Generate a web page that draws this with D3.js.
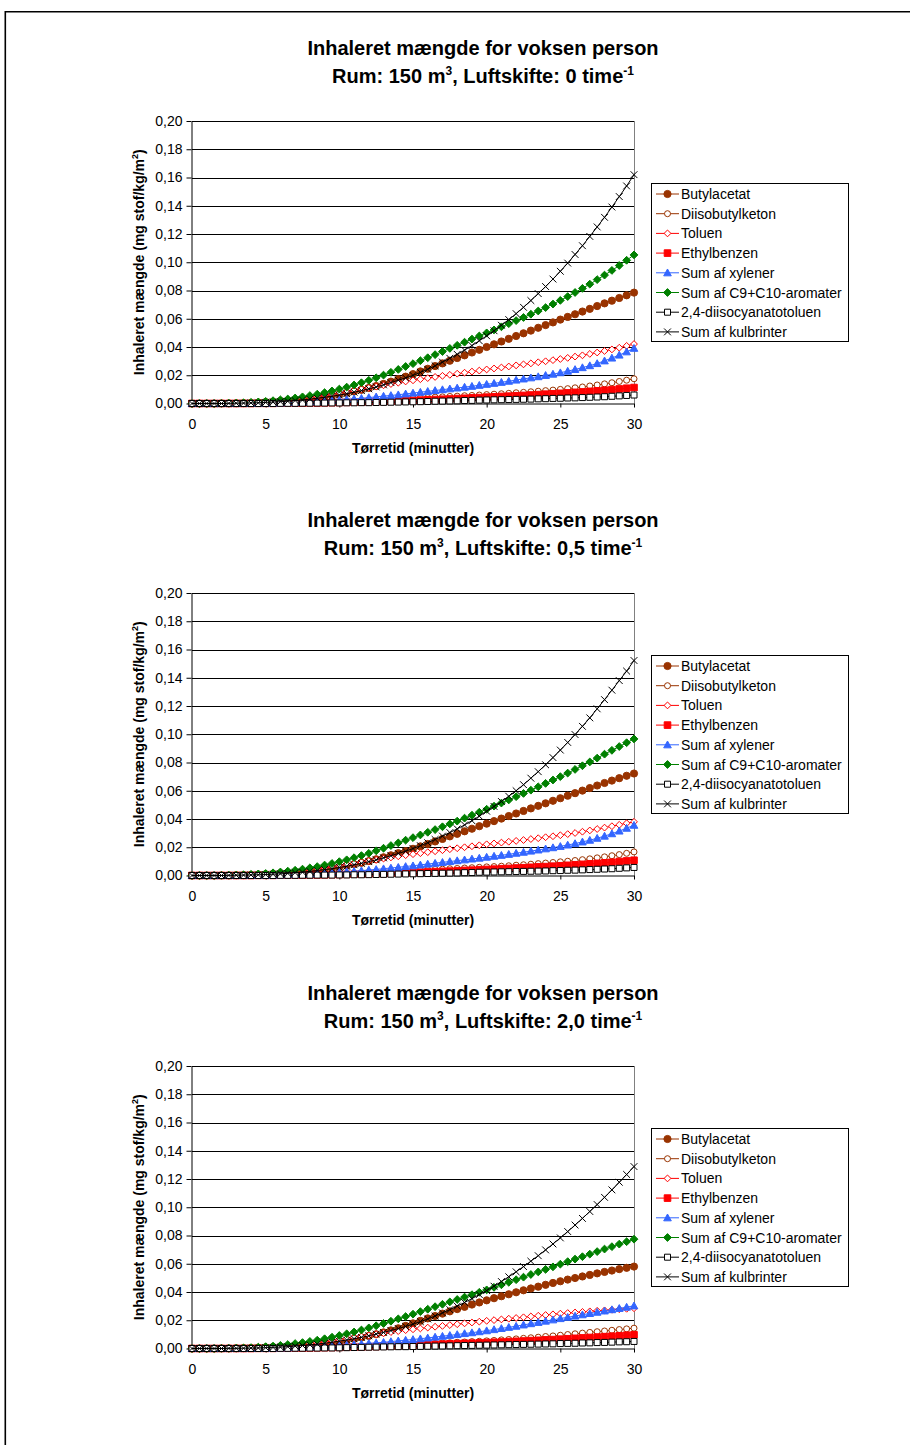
<!DOCTYPE html>
<html>
<head>
<meta charset="utf-8">
<script src="https://cdn.jsdelivr.net/npm/d3@7"></script>
<style>
  body { margin: 0; background: #fff; }
  svg { display: block; font-family: "Liberation Sans", Arial, sans-serif; }
</style>
</head>
<body>
<svg id="chart" width="910" height="1445"></svg>
<script>
// Sampling grid: every half minute from 0 to 30 minutes of drying time
const minutes = d3.range(61).map(i => i * 0.5);

const seriesNames = ["Butylacetat", "Diisobutylketon", "Toluen", "Ethylbenzen",
  "Sum af xylener", "Sum af C9+C10-aromater", "2,4-diisocyanatotoluen", "Sum af kulbrinter"];
const airChangeLabels = ["0", "0,5", "2,0"];
const yTicks = [0, 0.02, 0.04, 0.06, 0.08, 0.10, 0.12, 0.14, 0.16, 0.18, 0.20];
const xTicks = [0, 5, 10, 15, 20, 25, 30];

// --- Air change 0 per hour (mg/kg/m2) ---
const butylacetat_0 = [0,0,0,0,0.0001,0.0001,0.0002,0.0003,0.0005,0.0007,0.0010,0.0013,0.0017,0.0021,0.0025,0.0029,0.0034,0.0040,0.0047,0.0055,0.0064,0.0074,0.0085,0.0097,0.0110,0.0124,0.0139,0.0155,0.0172,0.0190,0.0208,0.0227,0.0246,0.0265,0.0284,0.0303,0.0322,0.0341,0.0361,0.0380,0.0400,0.0419,0.0439,0.0458,0.0478,0.0497,0.0516,0.0536,0.0555,0.0574,0.0594,0.0613,0.0632,0.0651,0.0670,0.0690,0.0709,0.0728,0.0747,0.0766,0.0785];
const diisobutylketon_0 = [0,0,0,0,0,0,0,0.0001,0.0001,0.0001,0.0002,0.0002,0.0003,0.0004,0.0005,0.0006,0.0007,0.0008,0.0009,0.0010,0.0012,0.0014,0.0016,0.0018,0.0020,0.0022,0.0025,0.0028,0.0031,0.0034,0.0037,0.0040,0.0042,0.0045,0.0047,0.0050,0.0052,0.0055,0.0057,0.0060,0.0063,0.0066,0.0069,0.0072,0.0076,0.0079,0.0083,0.0087,0.0091,0.0095,0.0100,0.0105,0.0111,0.0117,0.0124,0.0131,0.0139,0.0147,0.0156,0.0165,0.0175];
const toluen_0 = [0,0,0,0,0.0001,0.0001,0.0002,0.0003,0.0005,0.0008,0.0011,0.0015,0.0020,0.0025,0.0031,0.0037,0.0044,0.0051,0.0059,0.0067,0.0075,0.0084,0.0093,0.0102,0.0111,0.0120,0.0129,0.0138,0.0147,0.0156,0.0164,0.0172,0.0180,0.0188,0.0196,0.0203,0.0211,0.0218,0.0226,0.0233,0.0241,0.0248,0.0255,0.0262,0.0270,0.0277,0.0284,0.0292,0.0299,0.0307,0.0315,0.0323,0.0332,0.0341,0.0351,0.0361,0.0372,0.0383,0.0395,0.0408,0.0421];
const ethylbenzen_0 = [0,0,0,0,0,0,0,0,0,0.0001,0.0001,0.0001,0.0002,0.0002,0.0003,0.0003,0.0004,0.0004,0.0005,0.0006,0.0007,0.0008,0.0009,0.0010,0.0012,0.0013,0.0015,0.0016,0.0018,0.0020,0.0022,0.0024,0.0026,0.0028,0.0030,0.0032,0.0035,0.0037,0.0040,0.0042,0.0045,0.0047,0.0050,0.0052,0.0055,0.0057,0.0060,0.0063,0.0066,0.0069,0.0072,0.0075,0.0079,0.0082,0.0086,0.0090,0.0094,0.0098,0.0103,0.0108,0.0113];
const xylener_0 = [0,0,0,0,0,0,0,0.0001,0.0001,0.0002,0.0002,0.0003,0.0004,0.0006,0.0008,0.0010,0.0012,0.0015,0.0018,0.0021,0.0025,0.0029,0.0033,0.0037,0.0042,0.0047,0.0052,0.0057,0.0062,0.0068,0.0074,0.0080,0.0086,0.0092,0.0098,0.0104,0.0110,0.0116,0.0122,0.0129,0.0136,0.0143,0.0150,0.0158,0.0166,0.0174,0.0182,0.0190,0.0199,0.0208,0.0218,0.0229,0.0241,0.0254,0.0268,0.0283,0.0302,0.0322,0.0343,0.0366,0.0391];
const aromater_0 = [0,0,0,0,0.0001,0.0002,0.0003,0.0005,0.0008,0.0011,0.0015,0.0020,0.0026,0.0032,0.0039,0.0047,0.0056,0.0066,0.0077,0.0089,0.0102,0.0116,0.0131,0.0147,0.0164,0.0182,0.0201,0.0221,0.0241,0.0262,0.0282,0.0303,0.0324,0.0346,0.0368,0.0390,0.0412,0.0434,0.0456,0.0478,0.0500,0.0521,0.0543,0.0565,0.0587,0.0609,0.0632,0.0655,0.0679,0.0704,0.0730,0.0757,0.0786,0.0815,0.0845,0.0877,0.0909,0.0942,0.0977,0.1014,0.1052];
const diisocyanat_0 = [0,0,0,0,0,0,0,0,0,0,0,0,0.0001,0.0001,0.0001,0.0002,0.0002,0.0003,0.0003,0.0004,0.0004,0.0005,0.0005,0.0006,0.0006,0.0007,0.0008,0.0009,0.0010,0.0011,0.0012,0.0013,0.0014,0.0016,0.0017,0.0018,0.0019,0.0021,0.0022,0.0024,0.0025,0.0026,0.0027,0.0028,0.0029,0.0030,0.0031,0.0033,0.0034,0.0036,0.0037,0.0039,0.0040,0.0042,0.0044,0.0046,0.0048,0.0051,0.0054,0.0057,0.0060];
const kulbrinter_0 = [0,0,0,0,0,0.0001,0.0002,0.0003,0.0004,0.0005,0.0008,0.0010,0.0013,0.0016,0.0021,0.0025,0.0031,0.0037,0.0044,0.0051,0.0060,0.0069,0.0080,0.0091,0.0104,0.0117,0.0132,0.0148,0.0165,0.0181,0.0199,0.0220,0.0242,0.0267,0.0293,0.0320,0.0348,0.0378,0.0410,0.0444,0.0479,0.0515,0.0554,0.0594,0.0636,0.0681,0.0729,0.0778,0.0828,0.0881,0.0936,0.0994,0.1055,0.1117,0.1183,0.1250,0.1318,0.1391,0.1465,0.1540,0.1620];

// --- Air change 0,5 per hour ---
const butylacetat_05 = [0,0,0,0,0.0001,0.0001,0.0002,0.0003,0.0005,0.0007,0.0009,0.0012,0.0016,0.0019,0.0023,0.0027,0.0032,0.0037,0.0044,0.0051,0.0060,0.0069,0.0079,0.0090,0.0102,0.0115,0.0129,0.0143,0.0158,0.0172,0.0189,0.0206,0.0223,0.0241,0.0259,0.0277,0.0295,0.0313,0.0331,0.0349,0.0367,0.0385,0.0403,0.0421,0.0439,0.0457,0.0475,0.0493,0.0511,0.0529,0.0547,0.0565,0.0583,0.0601,0.0619,0.0637,0.0655,0.0672,0.0689,0.0706,0.0722];
const diisobutylketon_05 = [0,0,0,0,0,0,0,0.0001,0.0001,0.0001,0.0002,0.0002,0.0003,0.0004,0.0005,0.0006,0.0007,0.0008,0.0009,0.0010,0.0012,0.0013,0.0015,0.0017,0.0019,0.0021,0.0024,0.0027,0.0030,0.0033,0.0036,0.0038,0.0041,0.0043,0.0045,0.0048,0.0050,0.0053,0.0055,0.0058,0.0061,0.0063,0.0066,0.0069,0.0073,0.0076,0.0080,0.0084,0.0088,0.0092,0.0097,0.0101,0.0106,0.0112,0.0118,0.0125,0.0132,0.0140,0.0148,0.0157,0.0167];
const toluen_05 = [0,0,0,0,0.0001,0.0001,0.0002,0.0003,0.0005,0.0007,0.0010,0.0014,0.0019,0.0023,0.0029,0.0034,0.0041,0.0047,0.0055,0.0062,0.0070,0.0078,0.0086,0.0095,0.0103,0.0111,0.0120,0.0128,0.0136,0.0144,0.0151,0.0158,0.0165,0.0172,0.0179,0.0186,0.0193,0.0200,0.0207,0.0214,0.0221,0.0227,0.0233,0.0239,0.0245,0.0251,0.0258,0.0264,0.0271,0.0278,0.0285,0.0293,0.0301,0.0310,0.0319,0.0329,0.0339,0.0349,0.0359,0.0370,0.0380];
const ethylbenzen_05 = [0,0,0,0,0,0,0,0,0,0.0001,0.0001,0.0001,0.0002,0.0002,0.0003,0.0003,0.0004,0.0004,0.0005,0.0006,0.0007,0.0008,0.0009,0.0010,0.0011,0.0013,0.0014,0.0016,0.0017,0.0019,0.0021,0.0023,0.0025,0.0027,0.0029,0.0031,0.0034,0.0036,0.0038,0.0041,0.0043,0.0045,0.0048,0.0050,0.0053,0.0055,0.0058,0.0061,0.0063,0.0066,0.0069,0.0072,0.0076,0.0079,0.0083,0.0086,0.0090,0.0094,0.0099,0.0103,0.0108];
const xylener_05 = [0,0,0,0,0,0,0,0.0001,0.0001,0.0002,0.0002,0.0003,0.0004,0.0006,0.0007,0.0009,0.0011,0.0014,0.0017,0.0019,0.0023,0.0027,0.0030,0.0034,0.0039,0.0043,0.0048,0.0053,0.0058,0.0064,0.0069,0.0075,0.0081,0.0087,0.0093,0.0099,0.0105,0.0111,0.0117,0.0123,0.0130,0.0137,0.0143,0.0150,0.0158,0.0165,0.0173,0.0181,0.0189,0.0197,0.0206,0.0216,0.0226,0.0238,0.0250,0.0264,0.0279,0.0296,0.0315,0.0335,0.0356];
const aromater_05 = [0,0,0,0,0.0001,0.0002,0.0003,0.0005,0.0008,0.0011,0.0014,0.0019,0.0025,0.0031,0.0037,0.0045,0.0054,0.0063,0.0074,0.0085,0.0098,0.0111,0.0126,0.0141,0.0157,0.0175,0.0193,0.0212,0.0231,0.0250,0.0268,0.0287,0.0306,0.0325,0.0345,0.0365,0.0385,0.0406,0.0427,0.0448,0.0469,0.0491,0.0513,0.0535,0.0558,0.0581,0.0604,0.0628,0.0652,0.0676,0.0700,0.0725,0.0751,0.0777,0.0804,0.0831,0.0859,0.0886,0.0913,0.0940,0.0967];
const diisocyanat_05 = [0,0,0,0,0,0,0,0,0,0,0,0,0.0001,0.0001,0.0001,0.0002,0.0002,0.0003,0.0003,0.0003,0.0004,0.0004,0.0005,0.0005,0.0006,0.0007,0.0008,0.0009,0.0010,0.0011,0.0012,0.0013,0.0014,0.0015,0.0016,0.0017,0.0018,0.0020,0.0021,0.0023,0.0024,0.0025,0.0026,0.0027,0.0028,0.0029,0.0030,0.0031,0.0032,0.0034,0.0035,0.0037,0.0038,0.0040,0.0042,0.0044,0.0046,0.0048,0.0051,0.0054,0.0057];
const kulbrinter_05 = [0,0,0,0,0,0.0001,0.0002,0.0003,0.0004,0.0005,0.0007,0.0009,0.0012,0.0015,0.0020,0.0024,0.0029,0.0035,0.0042,0.0048,0.0057,0.0065,0.0076,0.0086,0.0098,0.0111,0.0125,0.0140,0.0156,0.0172,0.0191,0.0211,0.0232,0.0255,0.0279,0.0304,0.0330,0.0358,0.0388,0.0420,0.0455,0.0489,0.0524,0.0561,0.0600,0.0643,0.0689,0.0735,0.0784,0.0835,0.0888,0.0942,0.0998,0.1056,0.1116,0.1180,0.1245,0.1312,0.1380,0.1447,0.1522];

// --- Air change 2,0 per hour ---
const butylacetat_2 = [0,0,0,0,0.0001,0.0001,0.0002,0.0003,0.0004,0.0006,0.0008,0.0010,0.0013,0.0016,0.0019,0.0023,0.0027,0.0032,0.0038,0.0044,0.0051,0.0059,0.0068,0.0078,0.0089,0.0101,0.0114,0.0128,0.0143,0.0160,0.0178,0.0196,0.0213,0.0230,0.0247,0.0263,0.0279,0.0295,0.0311,0.0326,0.0341,0.0356,0.0370,0.0384,0.0398,0.0412,0.0425,0.0438,0.0451,0.0464,0.0476,0.0488,0.0499,0.0510,0.0521,0.0532,0.0542,0.0552,0.0562,0.0571,0.0580];
const diisobutylketon_2 = [0,0,0,0,0,0,0,0.0001,0.0001,0.0001,0.0002,0.0002,0.0003,0.0003,0.0004,0.0005,0.0006,0.0007,0.0008,0.0009,0.0010,0.0011,0.0013,0.0014,0.0016,0.0018,0.0020,0.0022,0.0025,0.0027,0.0030,0.0032,0.0034,0.0036,0.0039,0.0041,0.0044,0.0046,0.0049,0.0051,0.0054,0.0057,0.0061,0.0064,0.0068,0.0072,0.0076,0.0080,0.0085,0.0089,0.0094,0.0099,0.0104,0.0109,0.0114,0.0119,0.0124,0.0129,0.0134,0.0139,0.0144];
const toluen_2 = [0,0,0,0,0.0001,0.0001,0.0002,0.0003,0.0004,0.0006,0.0009,0.0012,0.0016,0.0020,0.0025,0.0030,0.0036,0.0042,0.0049,0.0056,0.0063,0.0070,0.0078,0.0086,0.0093,0.0101,0.0109,0.0116,0.0123,0.0130,0.0136,0.0142,0.0148,0.0154,0.0160,0.0166,0.0172,0.0178,0.0184,0.0190,0.0196,0.0201,0.0206,0.0211,0.0216,0.0221,0.0227,0.0232,0.0237,0.0242,0.0247,0.0251,0.0255,0.0259,0.0263,0.0267,0.0270,0.0274,0.0278,0.0281,0.0285];
const ethylbenzen_2 = [0,0,0,0,0,0,0,0,0,0.0001,0.0001,0.0001,0.0002,0.0002,0.0003,0.0003,0.0004,0.0005,0.0006,0.0007,0.0008,0.0009,0.0010,0.0011,0.0013,0.0014,0.0016,0.0018,0.0020,0.0022,0.0024,0.0026,0.0027,0.0029,0.0031,0.0033,0.0035,0.0037,0.0038,0.0040,0.0042,0.0044,0.0046,0.0049,0.0051,0.0053,0.0056,0.0058,0.0061,0.0063,0.0066,0.0069,0.0072,0.0075,0.0078,0.0081,0.0084,0.0087,0.0090,0.0094,0.0097];
const xylener_2 = [0,0,0,0,0,0,0,0,0.0001,0.0001,0.0002,0.0003,0.0004,0.0005,0.0007,0.0008,0.0010,0.0013,0.0015,0.0018,0.0021,0.0025,0.0028,0.0032,0.0036,0.0040,0.0044,0.0049,0.0054,0.0059,0.0064,0.0069,0.0075,0.0081,0.0087,0.0093,0.0099,0.0106,0.0112,0.0119,0.0126,0.0134,0.0142,0.0150,0.0158,0.0167,0.0176,0.0185,0.0194,0.0203,0.0212,0.0221,0.0230,0.0239,0.0248,0.0257,0.0266,0.0275,0.0284,0.0293,0.0302];
const aromater_2 = [0,0,0,0,0.0001,0.0001,0.0002,0.0004,0.0006,0.0009,0.0013,0.0017,0.0022,0.0028,0.0035,0.0042,0.0050,0.0059,0.0069,0.0080,0.0092,0.0104,0.0117,0.0131,0.0146,0.0161,0.0177,0.0193,0.0210,0.0226,0.0243,0.0261,0.0278,0.0296,0.0313,0.0330,0.0347,0.0364,0.0381,0.0398,0.0415,0.0433,0.0451,0.0469,0.0487,0.0505,0.0524,0.0542,0.0560,0.0578,0.0597,0.0615,0.0633,0.0650,0.0668,0.0686,0.0704,0.0721,0.0739,0.0756,0.0774];
const diisocyanat_2 = [0,0,0,0,0,0,0,0,0,0,0,0,0.0001,0.0001,0.0002,0.0002,0.0003,0.0003,0.0004,0.0004,0.0005,0.0006,0.0007,0.0008,0.0009,0.0010,0.0011,0.0012,0.0013,0.0013,0.0014,0.0015,0.0016,0.0017,0.0018,0.0019,0.0020,0.0021,0.0022,0.0023,0.0024,0.0025,0.0026,0.0027,0.0028,0.0029,0.0030,0.0031,0.0032,0.0033,0.0035,0.0036,0.0037,0.0039,0.0040,0.0042,0.0043,0.0045,0.0047,0.0048,0.0050];
const kulbrinter_2 = [0,0,0,0,0,0.0001,0.0001,0.0002,0.0003,0.0004,0.0006,0.0008,0.0010,0.0013,0.0017,0.0021,0.0026,0.0031,0.0037,0.0044,0.0052,0.0060,0.0069,0.0079,0.0090,0.0102,0.0114,0.0127,0.0141,0.0156,0.0172,0.0190,0.0209,0.0230,0.0252,0.0275,0.0300,0.0326,0.0353,0.0382,0.0410,0.0441,0.0474,0.0508,0.0543,0.0580,0.0618,0.0657,0.0698,0.0740,0.0783,0.0828,0.0874,0.0921,0.0970,0.1019,0.1070,0.1123,0.1177,0.1232,0.1288];

const panels = [
  [butylacetat_0, diisobutylketon_0, toluen_0, ethylbenzen_0, xylener_0, aromater_0, diisocyanat_0, kulbrinter_0],
  [butylacetat_05, diisobutylketon_05, toluen_05, ethylbenzen_05, xylener_05, aromater_05, diisocyanat_05, kulbrinter_05],
  [butylacetat_2, diisobutylketon_2, toluen_2, ethylbenzen_2, xylener_2, aromater_2, diisocyanat_2, kulbrinter_2]
];

// Marker and line styling per substance
const styles = [
  { stroke: "#993300", marker: "circle",   fill: "#993300", r: 3.6 },
  { stroke: "#993300", marker: "circle",   fill: "#ffffff", r: 3.0 },
  { stroke: "#FF0000", marker: "diamond",  fill: "#ffffff", r: 3.4 },
  { stroke: "#FF0000", marker: "square",   fill: "#FF0000", r: 3.3 },
  { stroke: "#3366FF", marker: "triangle", fill: "#3366FF", r: 3.8 },
  { stroke: "#008000", marker: "diamond",  fill: "#008000", r: 3.9 },
  { stroke: "#000000", marker: "square",   fill: "#ffffff", r: 3.0 },
  { stroke: "#000000", marker: "cross",    fill: "none",    r: 3.4 }
];

function markerPath(type, s) {
  switch (type) {
    case "square":   return `M${-s},${-s}H${s}V${s}H${-s}Z`;
    case "diamond":  return `M0,${-s}L${s},0L0,${s}L${-s},0Z`;
    case "triangle": return `M0,${-s}L${s},${s * 0.8}L${-s},${s * 0.8}Z`;
    case "cross":    return `M${-s},${-s}L${s},${s}M${-s},${s}L${s},${-s}`;
    default:         return d3.symbol(d3.symbolCircle, Math.PI * s * s)();
  }
}

function drawMarkers(sel, st) {
  sel.append("path")
    .attr("d", markerPath(st.marker, st.r))
    .attr("fill", st.fill)
    .attr("stroke", st.stroke)
    .attr("stroke-width", 1);
}

const svg = d3.select("#chart");

// Outer frame of the page
svg.append("path")
  .attr("d", "M5.3,1445V11.8H910")
  .attr("fill", "none")
  .attr("stroke", "#000")
  .attr("stroke-width", 1.6);

const decimalComma = d3.formatLocale({ decimal: ",", thousands: ".", grouping: [3], currency: ["", ""] });
const fmtY = decimalComma.format(".2f");

const panelOffsets = [0, 472, 945];
const plot = { left: 192, right: 634, top: 121, bottom: 403.5 };

panels.forEach((series, pi) => {
  const g = svg.append("g").attr("transform", `translate(0,${panelOffsets[pi]})`);
  const x = d3.scaleLinear().domain([0, 30]).range([plot.left, plot.right]);
  const y = d3.scaleLinear().domain([0, 0.2]).range([plot.bottom, plot.top]);

  // Title
  const title = g.append("text")
    .attr("text-anchor", "middle")
    .attr("font-weight", "bold")
    .attr("font-size", 20)
    .attr("fill", "#000");
  title.append("tspan").attr("x", 483).attr("y", 55).text("Inhaleret mængde for voksen person");
  const t2 = g.append("text")
    .attr("text-anchor", "middle")
    .attr("font-weight", "bold")
    .attr("font-size", 20)
    .attr("x", 483).attr("y", 83)
    .attr("fill", "#000");
  t2.append("tspan").text("Rum: 150 m");
  t2.append("tspan").attr("font-size", 12).attr("dy", -8).text("3");
  t2.append("tspan").attr("dy", 8).text(`, Luftskifte: ${airChangeLabels[pi]} time`);
  t2.append("tspan").attr("font-size", 12).attr("dy", -8).text("-1");

  // Horizontal gridlines
  g.append("g").selectAll("line")
    .data(yTicks.filter(d => d > 0))
    .join("line")
    .attr("x1", plot.left).attr("x2", plot.right)
    .attr("y1", d => Math.round(y(d)) + 0.5).attr("y2", d => Math.round(y(d)) + 0.5)
    .attr("stroke", "#000").attr("stroke-width", 1);

  // Right edge of the plot area
  g.append("line")
    .attr("x1", plot.right + 0.5).attr("x2", plot.right + 0.5)
    .attr("y1", plot.top).attr("y2", plot.bottom)
    .attr("stroke", "#808080").attr("stroke-width", 1);

  // Y axis
  const yAxis = g.append("g")
    .attr("transform", `translate(${plot.left - 0.5},0)`)
    .call(d3.axisLeft(y).tickValues(yTicks).tickFormat(fmtY).tickSize(5).tickSizeOuter(0).tickPadding(4));
  yAxis.select(".domain").attr("stroke", "#000");
  yAxis.selectAll(".tick line").attr("stroke", "#000");
  yAxis.selectAll(".tick text")
    .attr("font-size", 14).attr("font-family", "Liberation Sans, Arial, sans-serif").attr("fill", "#000");

  // X axis
  const xAxis = g.append("g")
    .attr("transform", `translate(0,${plot.bottom})`)
    .call(d3.axisBottom(x).tickValues(xTicks).tickFormat(d3.format("d")).tickSize(4).tickSizeOuter(0));
  xAxis.select(".domain").attr("stroke", "#000");
  xAxis.selectAll(".tick line").attr("stroke", "#000");
  xAxis.selectAll(".tick text")
    .attr("y", 25.5).attr("dy", null)
    .attr("font-size", 14).attr("font-family", "Liberation Sans, Arial, sans-serif").attr("fill", "#000");

  // Axis titles
  g.append("text")
    .attr("x", (plot.left + plot.right) / 2).attr("y", 453)
    .attr("text-anchor", "middle").attr("font-weight", "bold").attr("font-size", 14)
    .text("Tørretid (minutter)");
  const yt = g.append("text")
    .attr("transform", `translate(144,${(plot.top + plot.bottom) / 2}) rotate(-90)`)
    .attr("text-anchor", "middle").attr("font-weight", "bold").attr("font-size", 14);
  yt.append("tspan").text("Inhaleret mængde (mg stof/kg/m");
  yt.append("tspan").attr("font-size", 9).attr("dy", -6).text("2");
  yt.append("tspan").attr("dy", 6).text(")");

  // Series lines and markers
  const line = d3.line().x((d, i) => x(minutes[i])).y(d => y(d));
  series.forEach((vals, si) => {
    const st = styles[si];
    const sg = g.append("g");
    sg.append("path")
      .datum(vals)
      .attr("d", line)
      .attr("fill", "none")
      .attr("stroke", st.stroke)
      .attr("stroke-width", 1);
    sg.selectAll("g.mk")
      .data(vals)
      .join("g")
      .attr("class", "mk")
      .attr("transform", (d, i) => `translate(${x(minutes[i])},${y(d)})`)
      .each(function () { drawMarkers(d3.select(this), st); });
  });

  // Legend
  const lg = g.append("g").attr("transform", "translate(651,183)");
  lg.append("rect")
    .attr("x", 0.5).attr("y", 0.5).attr("width", 197).attr("height", 158)
    .attr("fill", "#fff").attr("stroke", "#000").attr("stroke-width", 1);
  seriesNames.forEach((name, si) => {
    const st = styles[si];
    const ry = 11 + si * 19.7;
    const row = lg.append("g").attr("transform", `translate(0,${ry})`);
    row.append("line").attr("x1", 5).attr("x2", 28).attr("y1", 0).attr("y2", 0)
      .attr("stroke", st.stroke).attr("stroke-width", 1);
    const m = row.append("g").attr("transform", "translate(16.5,0)");
    drawMarkers(m, st);
    row.append("text").attr("x", 30).attr("y", 5).attr("font-size", 14).attr("fill", "#000").text(name);
  });
});
</script>
</body>
</html>
